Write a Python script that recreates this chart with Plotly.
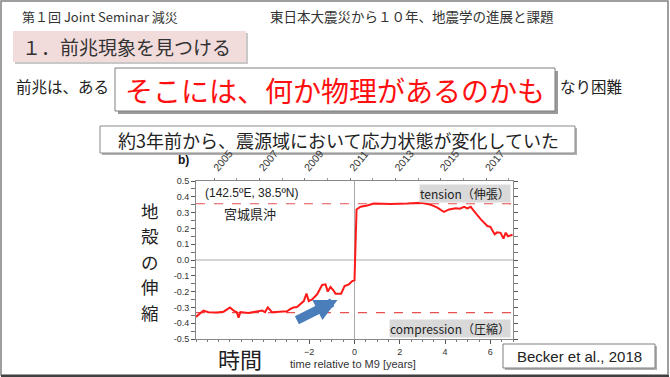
import plotly.graph_objects as go

# ---- data ----
t_years = [-7.0, -6.67, -6.45, -6.08, -5.78, -5.5, -5.34, -5.2, -5.12, -5.04,
           -4.68, -4.23, -4.08, -3.95, -3.83, -3.64, -3.27, -2.98, -2.83, -2.69,
           -2.54, -2.39, -2.24, -2.12, -2.02, -1.87, -1.65, -1.43, -1.28, -1.18,
           -1.06, -0.94, -0.84, -0.59, -0.44, -0.25, -0.1, 0.0, 0.09, 0.27,
           0.56, 0.85, 1.2, 1.59, 2.33, 2.92, 3.29, 3.36, 3.66, 3.95,
           4.18, 4.47, 4.65, 4.84, 4.99, 5.13, 5.28, 5.58, 5.87, 6.0,
           6.19, 6.3, 6.45, 6.58, 6.68, 6.78, 6.98]
strain = [-0.36, -0.32, -0.33, -0.333, -0.327, -0.30, -0.32, -0.33, -0.365, -0.33,
          -0.335, -0.327, -0.32, -0.33, -0.30, -0.33, -0.325, -0.325, -0.31, -0.30,
          -0.297, -0.28, -0.26, -0.213, -0.26, -0.25, -0.217, -0.158, -0.154, -0.20,
          -0.171, -0.19, -0.213, -0.213, -0.165, -0.154, -0.133, -0.128, 0.32, 0.337,
          0.345, 0.358, 0.356, 0.355, 0.358, 0.363, 0.353, 0.350, 0.331, 0.304,
          0.32, 0.327, 0.325, 0.337, 0.327, 0.337, 0.31, 0.257, 0.215, 0.21,
          0.163, 0.175, 0.172, 0.135, 0.173, 0.15, 0.16]
tension_level = 0.356
compression_level = -0.333
eq_year = 2011.19
top_years = [2005, 2007, 2009, 2011, 2013, 2015, 2017]
bottom_ticks = [-2, 0, 2, 4, 6]
y_ticks = [0.5, 0.4, 0.3, 0.2, 0.1, 0.0, -0.1, -0.2, -0.3, -0.4, -0.5]
y_labels = ["0.5", "0.4", "0.3", "0.2", "0.1", "0.0", "-0.1", "-0.2", "-0.3", "-0.4", "-0.5"]

W, H = 670, 377
L, R, T, B = 196, 513, 181, 339

def X(px):
    return (px - L) / (R - L)

def Y(py):
    return (B - py) / (B - T)

JP = "Noto Sans CJK JP"
AR = "Liberation Sans, Arial"

fig = go.Figure()
fig.add_trace(go.Scatter(x=t_years, y=strain, mode="lines",
                         line=dict(color="#ff1a1a", width=2), showlegend=False,
                         hoverinfo="skip"))
# invisible trace to anchor top axis
fig.add_trace(go.Scatter(x=[eq_year - 7, eq_year + 7], y=[0, 0], xaxis="x2",
                         mode="lines", line=dict(width=0), opacity=0,
                         showlegend=False, hoverinfo="skip"))

fig.update_layout(
    width=W, height=H,
    margin=dict(l=L, r=W - R, t=T, b=H - B, autoexpand=False),
    paper_bgcolor="white", plot_bgcolor="white",
    xaxis=dict(range=[-7, 7], tickvals=bottom_ticks, ticks="outside", ticklen=4,
               tickcolor="#555", minor=dict(dtick=0.5, ticks="outside", ticklen=2, tickcolor="#777"),
               showgrid=False, zeroline=False, showline=True, linecolor="#888", linewidth=1,
               tickfont=dict(family=AR, size=9, color="#333"), automargin=False),
    xaxis2=dict(range=[eq_year - 7, eq_year + 7], overlaying="x", side="top",
                tickvals=top_years, ticktext=[str(v) for v in top_years], tickangle=-50,
                ticks="outside", ticklen=2, tickcolor="#777",
                minor=dict(dtick=1, tick0=2005, ticks="outside", ticklen=2, tickcolor="#999"),
                showgrid=False, zeroline=False, showline=True, linecolor="#888",
                tickfont=dict(family=AR, size=10.5, color="#333"), automargin=False),
    yaxis=dict(range=[-0.5, 0.5], tickvals=y_ticks, ticktext=y_labels, ticks="outside",
               ticklen=4, tickcolor="#555",
               minor=dict(dtick=0.05, ticks="outside", ticklen=2, tickcolor="#777"),
               showgrid=False, zeroline=False, showline=True, linecolor="#888", mirror="allticks",
               tickfont=dict(family=AR, size=9, color="#333"), automargin=False),
)

# reference lines
fig.add_hline(y=0, line=dict(color="#aaaaaa", width=1), layer="below")
fig.add_vline(x=0, line=dict(color="#aaaaaa", width=1), layer="below")
fig.add_hline(y=tension_level, line=dict(color="#e85050", width=1.2, dash="dash"), layer="below")
fig.add_hline(y=compression_level, line=dict(color="#e85050", width=1.2, dash="dash"), layer="below")

shapes = []
# slide border
shapes.append(dict(type="rect", xref="paper", yref="paper", x0=X(1), x1=X(668), y0=Y(375), y1=Y(1),
                   line=dict(color="#7f7f7f", width=1.5), fillcolor="rgba(0,0,0,0)", layer="below"))
shapes.append(dict(type="line", xref="paper", yref="paper", x0=X(1), x1=X(669), y0=Y(376), y1=Y(376),
                   line=dict(color="#404040", width=2)))
# header pink box with shadow
shapes.append(dict(type="rect", xref="paper", yref="paper", x0=X(15), x1=X(248), y0=Y(64), y1=Y(33),
                   line=dict(width=0), fillcolor="#c8c8c8"))
shapes.append(dict(type="rect", xref="paper", yref="paper", x0=X(13), x1=X(246), y0=Y(62), y1=Y(31),
                   line=dict(width=0), fillcolor="#f2dcdb"))
# red text box with shadow
shapes.append(dict(type="rect", xref="paper", yref="paper", x0=X(118), x1=X(558), y0=Y(114), y1=Y(71),
                   line=dict(width=0), fillcolor="#9a9a9a"))
shapes.append(dict(type="rect", xref="paper", yref="paper", x0=X(115), x1=X(555), y0=Y(111), y1=Y(68),
                   line=dict(color="#7f7f7f", width=1), fillcolor="white"))
# middle statement box (below layer so the year labels stay visible)
shapes.append(dict(type="rect", xref="paper", yref="paper", x0=X(102), x1=X(577), y0=Y(155), y1=Y(128),
                   line=dict(width=0), fillcolor="#b0b0b0", layer="below"))
shapes.append(dict(type="rect", xref="paper", yref="paper", x0=X(100), x1=X(575), y0=Y(153), y1=Y(126),
                   line=dict(color="#8a8a8a", width=1), fillcolor="white", layer="below"))
# citation box
shapes.append(dict(type="rect", xref="paper", yref="paper", x0=X(505), x1=X(657), y0=Y(370), y1=Y(346),
                   line=dict(width=0), fillcolor="#b0b0b0"))
shapes.append(dict(type="rect", xref="paper", yref="paper", x0=X(503), x1=X(655), y0=Y(368), y1=Y(344),
                   line=dict(color="#7f7f7f", width=1), fillcolor="white"))
fig.update_layout(shapes=list(fig.layout.shapes) + shapes)

def txt(s, px, py, size, color="#222", family=JP, xanchor="left", yanchor="middle", **kw):
    fig.add_annotation(text=s, x=X(px), y=Y(py), xref="paper", yref="paper",
                       showarrow=False, xanchor=xanchor, yanchor=yanchor,
                       font=dict(family=family, size=size, color=color), **kw)

txt("第１回 Joint Seminar 減災", 20, 16, 13, color="#333")
txt("東日本大震災から１０年、地震学の進展と課題", 268, 16, 13.5, color="#333")
txt("１．前兆現象を見つける", 20, 46, 19, color="#333")
txt("前兆は、ある", 14, 86, 15.5, color="#222")
txt("なり困難", 558, 86, 15.5, color="#222")
txt("そこには、何か物理があるのかも", 335, 90, 28, color="#ff1010", xanchor="center")
txt("約3年前から、震源域において応力状態が変化していた", 338, 140, 18, color="#222", xanchor="center")
txt("<b>b)</b>", 176, 160, 12, color="#111", family=AR)
for i, ch in enumerate("地殻の伸縮"):
    txt(ch, 150, 210 + i * 25.5, 17.5, color="#222", xanchor="center")
txt("時間", 240, 358, 22, color="#222", xanchor="center")
txt("time relative to M9 [years]", 353, 364, 11, color="#333", family=AR, xanchor="center")
txt("Becker et al., 2018", 579, 356, 15, color="#222", family=AR, xanchor="center")
txt("(142.5ºE, 38.5ºN)", 203, 193, 12, color="#222", family=AR)
txt("宮城県沖", 250, 213, 13, color="#222", xanchor="center")
txt("tension（伸張）", 511, 193, 12, color="#222", xanchor="right", bgcolor="#d9d9d9", borderpad=0)
txt("compression（圧縮）", 511, 328, 12, color="#222", xanchor="right", bgcolor="#d9d9d9", borderpad=0)

# blue arrow
fig.add_annotation(x=-0.75, y=-0.253, ax=-2.61, ay=-0.386, xref="x", yref="y", axref="x", ayref="y",
                   text="", showarrow=True, arrowhead=2, arrowsize=0.5, arrowwidth=9,
                   arrowcolor="#4a7ebb")

fig.write_html("out.html", config={"displayModeBar": False},
               post_script="document.body.style.margin='0px';")
